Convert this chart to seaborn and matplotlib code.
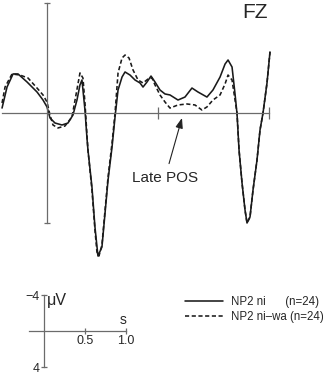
import numpy as np
import pandas as pd
import seaborn as sns
import matplotlib.pyplot as plt

sns.set_style("white")
plt.rcParams['font.family'] = ['Liberation Sans', 'DejaVu Sans']
plt.rcParams['lines.solid_joinstyle'] = 'round'
plt.rcParams['lines.dash_joinstyle'] = 'round'

# ERP at FZ, time in s, amplitude in uV (negative up)
t_ni = [-0.405, -0.360, -0.306, -0.261, -0.180, -0.090, -0.036, 0.0, 0.027, 0.072,
        0.135, 0.189, 0.234, 0.270, 0.297, 0.315, 0.342, 0.360, 0.369, 0.405,
        0.432, 0.459, 0.495, 0.523, 0.550, 0.586, 0.613, 0.640, 0.676, 0.703,
        0.748, 0.793, 0.838, 0.865, 0.901, 0.937, 0.973, 1.018, 1.063, 1.108,
        1.180, 1.243, 1.306, 1.360, 1.441, 1.495, 1.559, 1.604, 1.631, 1.667,
        1.694, 1.712, 1.730, 1.757, 1.784, 1.802, 1.829, 1.856, 1.892, 1.919,
        1.946, 1.982, 2.009]
v_ni = [-0.45, -2.36, -3.55, -3.55, -2.82, -1.91, -1.18, -0.55, 0.45, 0.91,
        1.09, 0.91, 0.18, -1.18, -2.55, -3.0, -0.27, 2.27, 3.36, 6.73,
        10.36, 13.0, 12.18, 9.09, 6.09, 3.09, 0.36, -2.09, -3.27, -3.73,
        -3.45, -3.0, -2.73, -2.36, -2.82, -3.36, -2.82, -2.09, -1.73, -1.64,
        -1.18, -1.45, -2.27, -1.91, -1.45, -2.09, -3.27, -4.45, -4.82, -4.18,
        -1.73, 0.09, 3.36, 6.36, 8.82, 10.0, 9.45, 7.0, 4.27, 1.55,
        0.0, -2.73, -5.55]

t_niwa = [-0.405, -0.378, -0.315, -0.243, -0.171, -0.090, -0.036, 0.0, 0.027, 0.054,
          0.099, 0.162, 0.225, 0.261, 0.297, 0.324, 0.342, 0.360, 0.369, 0.405,
          0.432, 0.450, 0.468, 0.495, 0.523, 0.550, 0.586, 0.613, 0.640, 0.676,
          0.703, 0.739, 0.775, 0.820, 0.865, 0.910, 0.946, 0.973, 1.018, 1.063,
          1.108, 1.180, 1.261, 1.333, 1.396, 1.441, 1.495, 1.559, 1.604, 1.631,
          1.667, 1.694, 1.712, 1.730, 1.757, 1.784, 1.802, 1.829, 1.856, 1.892,
          1.919, 1.946, 1.982, 2.009]
v_niwa = [-0.91, -2.36, -3.55, -3.45, -3.18, -2.27, -1.64, -1.0, 0.18, 1.09,
          1.36, 1.18, 0.36, -1.64, -3.64, -3.18, -0.91, 2.0, 3.36, 7.0,
          10.64, 12.64, 13.0, 12.0, 8.82, 5.82, 2.73, 0.0, -3.64, -5.0,
          -5.27, -5.0, -3.91, -3.0, -2.73, -3.09, -3.18, -2.55, -1.64, -1.0,
          -0.45, -0.73, -0.82, -0.73, -0.27, -0.55, -1.18, -1.64, -2.64, -3.45,
          -3.0, -1.18, 0.0, 3.36, 6.36, 8.82, 10.0, 9.45, 7.0, 4.27,
          1.55, 0.0, -2.73, -5.55]

labels = ["NP2 ni      (n=24)", "NP2 ni\u2013wa (n=24)"]

df = pd.concat([
    pd.DataFrame({"t": t_ni, "v": v_ni, "cond": labels[0]}),
    pd.DataFrame({"t": t_niwa, "v": v_niwa, "cond": labels[1]}),
])

W, H = 323, 373
fig = plt.figure(figsize=(W / 100, H / 100), dpi=100)
axc = "#6b6b6b"

# main panel
ax = fig.add_axes([0, (H - 270) / H, 1, 270 / H])
sns.lineplot(data=df, x="t", y="v", style="cond", style_order=labels,
             dashes={labels[0]: "", labels[1]: (2.6, 1.6)},
             color="#1a1a1a", linewidth=1.15, estimator=None, sort=False,
             legend=False, ax=ax)
ax.set_xlim(-47 / 111, 276 / 111)
ax.set_ylim(157 / 11, -113 / 11)
for s in ["top", "right"]:
    ax.spines[s].set_visible(False)
ax.spines["left"].set_position(("data", 0))
ax.spines["bottom"].set_position(("data", 0))
ax.spines["left"].set_bounds(-10, 10)
ax.spines["bottom"].set_bounds(-0.405, 2.0)
for s in ["left", "bottom"]:
    ax.spines[s].set_color(axc)
    ax.spines[s].set_linewidth(0.9)
ax.set_xticks([1.0, 2.0])
ax.set_yticks([-10, 10])
ax.tick_params(axis="x", direction="inout", length=9, width=0.9, color=axc,
               labelbottom=False, bottom=True)
ax.tick_params(axis="y", direction="inout", length=4, width=0.9, color=axc,
               labelleft=False, left=True)
ax.set_xlabel("")
ax.set_ylabel("")
ax.patch.set_alpha(0)

ax.annotate("Late POS", xy=(1.216, 0.45), xytext=(1.063, 5.9),
            ha="center", va="center", fontsize=11,
            arrowprops=dict(arrowstyle="-|>,head_length=0.55,head_width=0.2",
                            color="#222222", lw=0.8, shrinkA=3, shrinkB=0))

fig.text(255 / W, 1 - 12 / H, "FZ", ha="center", va="center", fontsize=15)

# scale bar panel
sb = fig.add_axes([0, 0, 160 / W, 93 / H])
sb.set_xlim(-44 / 82, 116 / 82)
sb.set_ylim(42 / 9, -51 / 9)
for s in ["top", "right"]:
    sb.spines[s].set_visible(False)
sb.spines["left"].set_position(("data", 0))
sb.spines["bottom"].set_position(("data", 0))
sb.spines["left"].set_bounds(-4, 4)
sb.spines["bottom"].set_bounds(-15 / 82, 1.0)
for s in ["left", "bottom"]:
    sb.spines[s].set_color(axc)
    sb.spines[s].set_linewidth(0.9)
sb.set_xticks([0.5, 1.0])
sb.set_xticklabels(["0.5", "1.0"])
sb.set_yticks([-4, 4])
sb.set_yticklabels(["\u22124", "4"])
sb.tick_params(axis="both", direction="inout", length=4, width=0.9, color=axc,
               labelsize=9, pad=1, bottom=True, left=True)
sb.text(0.04, -3.4, "\u03bcV", fontsize=11.5, ha="left", va="center")
sb.text(0.96, -1.2, "s", fontsize=10, ha="center", va="center")
sb.patch.set_alpha(0)

fig.legend(handles=ax.lines[:2], labels=labels, loc="upper left",
           bbox_to_anchor=(185 / W, (H - 296) / H), frameon=False,
           fontsize=8.3, handlelength=3.3, handletextpad=0.65,
           labelspacing=0.25, borderpad=0, borderaxespad=0)

fig.savefig("out.png", dpi=100)
